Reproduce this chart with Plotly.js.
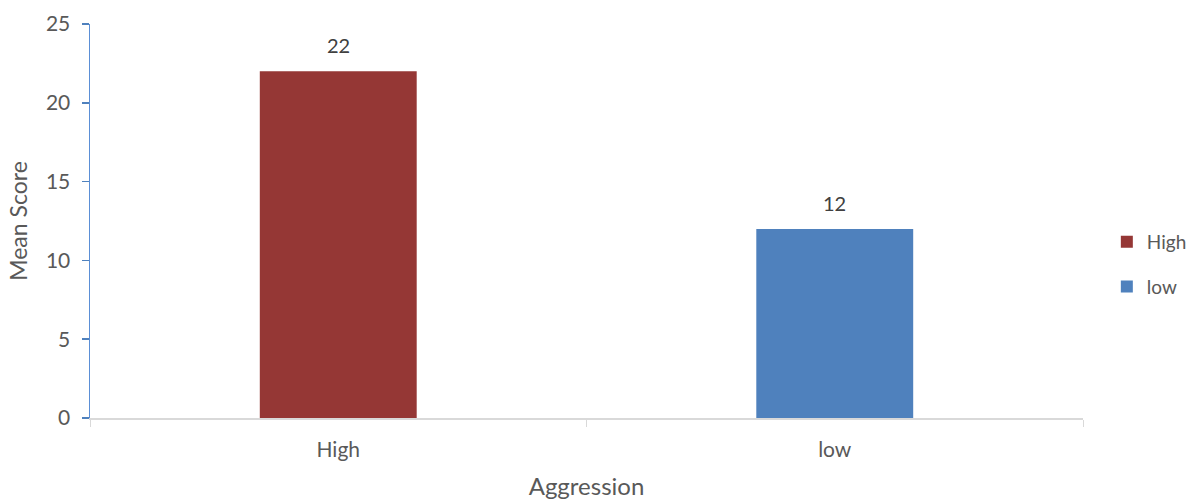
<!DOCTYPE html>
<html>
<head>
<meta charset="utf-8">
<script src="https://cdn.plot.ly/plotly-3.0.1.min.js"></script>
<style>html,body{margin:0;padding:0;background:#fff}#chart{width:1189px;height:500px}</style>
</head>
<body>
<div id="chart"></div>
<script>
// Mean aggression score by group
const categories = ['High', 'low'];
const seriesNames = ['High', 'low'];
const meanScores = [22, 12];
const barColors = ['#953735', '#4f81bd'];
const yTicks = [0, 5, 10, 15, 20, 25];

const FONT = 'Lato, "Open Sans", sans-serif';
const TEXT = '#595959';

const traces = categories.map((cat, i) => ({
  type: 'bar',
  name: seriesNames[i],
  legendgroup: seriesNames[i],
  x: [cat],
  y: [meanScores[i]],
  width: 0.316,
  marker: {color: barColors[i]},
  hoverinfo: 'x+y'
}));

// value labels sitting above each bar
const annotations = categories.map((cat, i) => ({
  x: cat,
  y: meanScores[i],
  xref: 'x',
  yref: 'y',
  text: String(meanScores[i]),
  showarrow: false,
  yanchor: 'bottom',
  yshift: 12,
  font: {family: FONT, size: 20, color: '#404040'}
}));

const layout = {
  width: 1189,
  height: 500,
  margin: {l: 90, r: 106, t: 24, b: 82, autoexpand: false},
  paper_bgcolor: '#ffffff',
  plot_bgcolor: '#ffffff',
  barmode: 'overlay',
  showlegend: true,
  annotations: annotations,
  legend: {
    x: 1.024, xanchor: 'left',
    y: 0.39, yanchor: 'middle',
    font: {family: FONT, size: 19, color: TEXT},
    traceorder: 'grouped',
    tracegroupgap: 17,
    itemwidth: 30
  },
  xaxis: {
    type: 'category',
    categoryorder: 'array',
    categoryarray: categories,
    tickson: 'boundaries',
    ticks: 'outside',
    ticklen: 7,
    tickcolor: '#d9d9d9',
    showline: true,
    linecolor: '#d9d9d9',
    linewidth: 1.5,
    showgrid: false,
    ticklabelstandoff: 12,
    tickfont: {family: FONT, size: 21, color: TEXT},
    title: {text: 'Aggression', font: {family: FONT, size: 24, color: TEXT}, standoff: 18}
  },
  yaxis: {
    range: [0, 25],
    tickvals: yTicks,
    ticks: 'outside',
    ticklen: 7,
    tickcolor: '#4f81bd',
    tickwidth: 1.5,
    showline: true,
    linecolor: '#5b8fd6',
    linewidth: 1.5,
    showgrid: false,
    zeroline: false,
    ticklabelstandoff: 7,
    tickfont: {family: FONT, size: 21, color: TEXT},
    title: {text: 'Mean Score', font: {family: FONT, size: 23, color: TEXT}, standoff: 12}
  }
};

Plotly.newPlot('chart', traces, layout, {displayModeBar: false, staticPlot: true});
</script>
</body>
</html>
